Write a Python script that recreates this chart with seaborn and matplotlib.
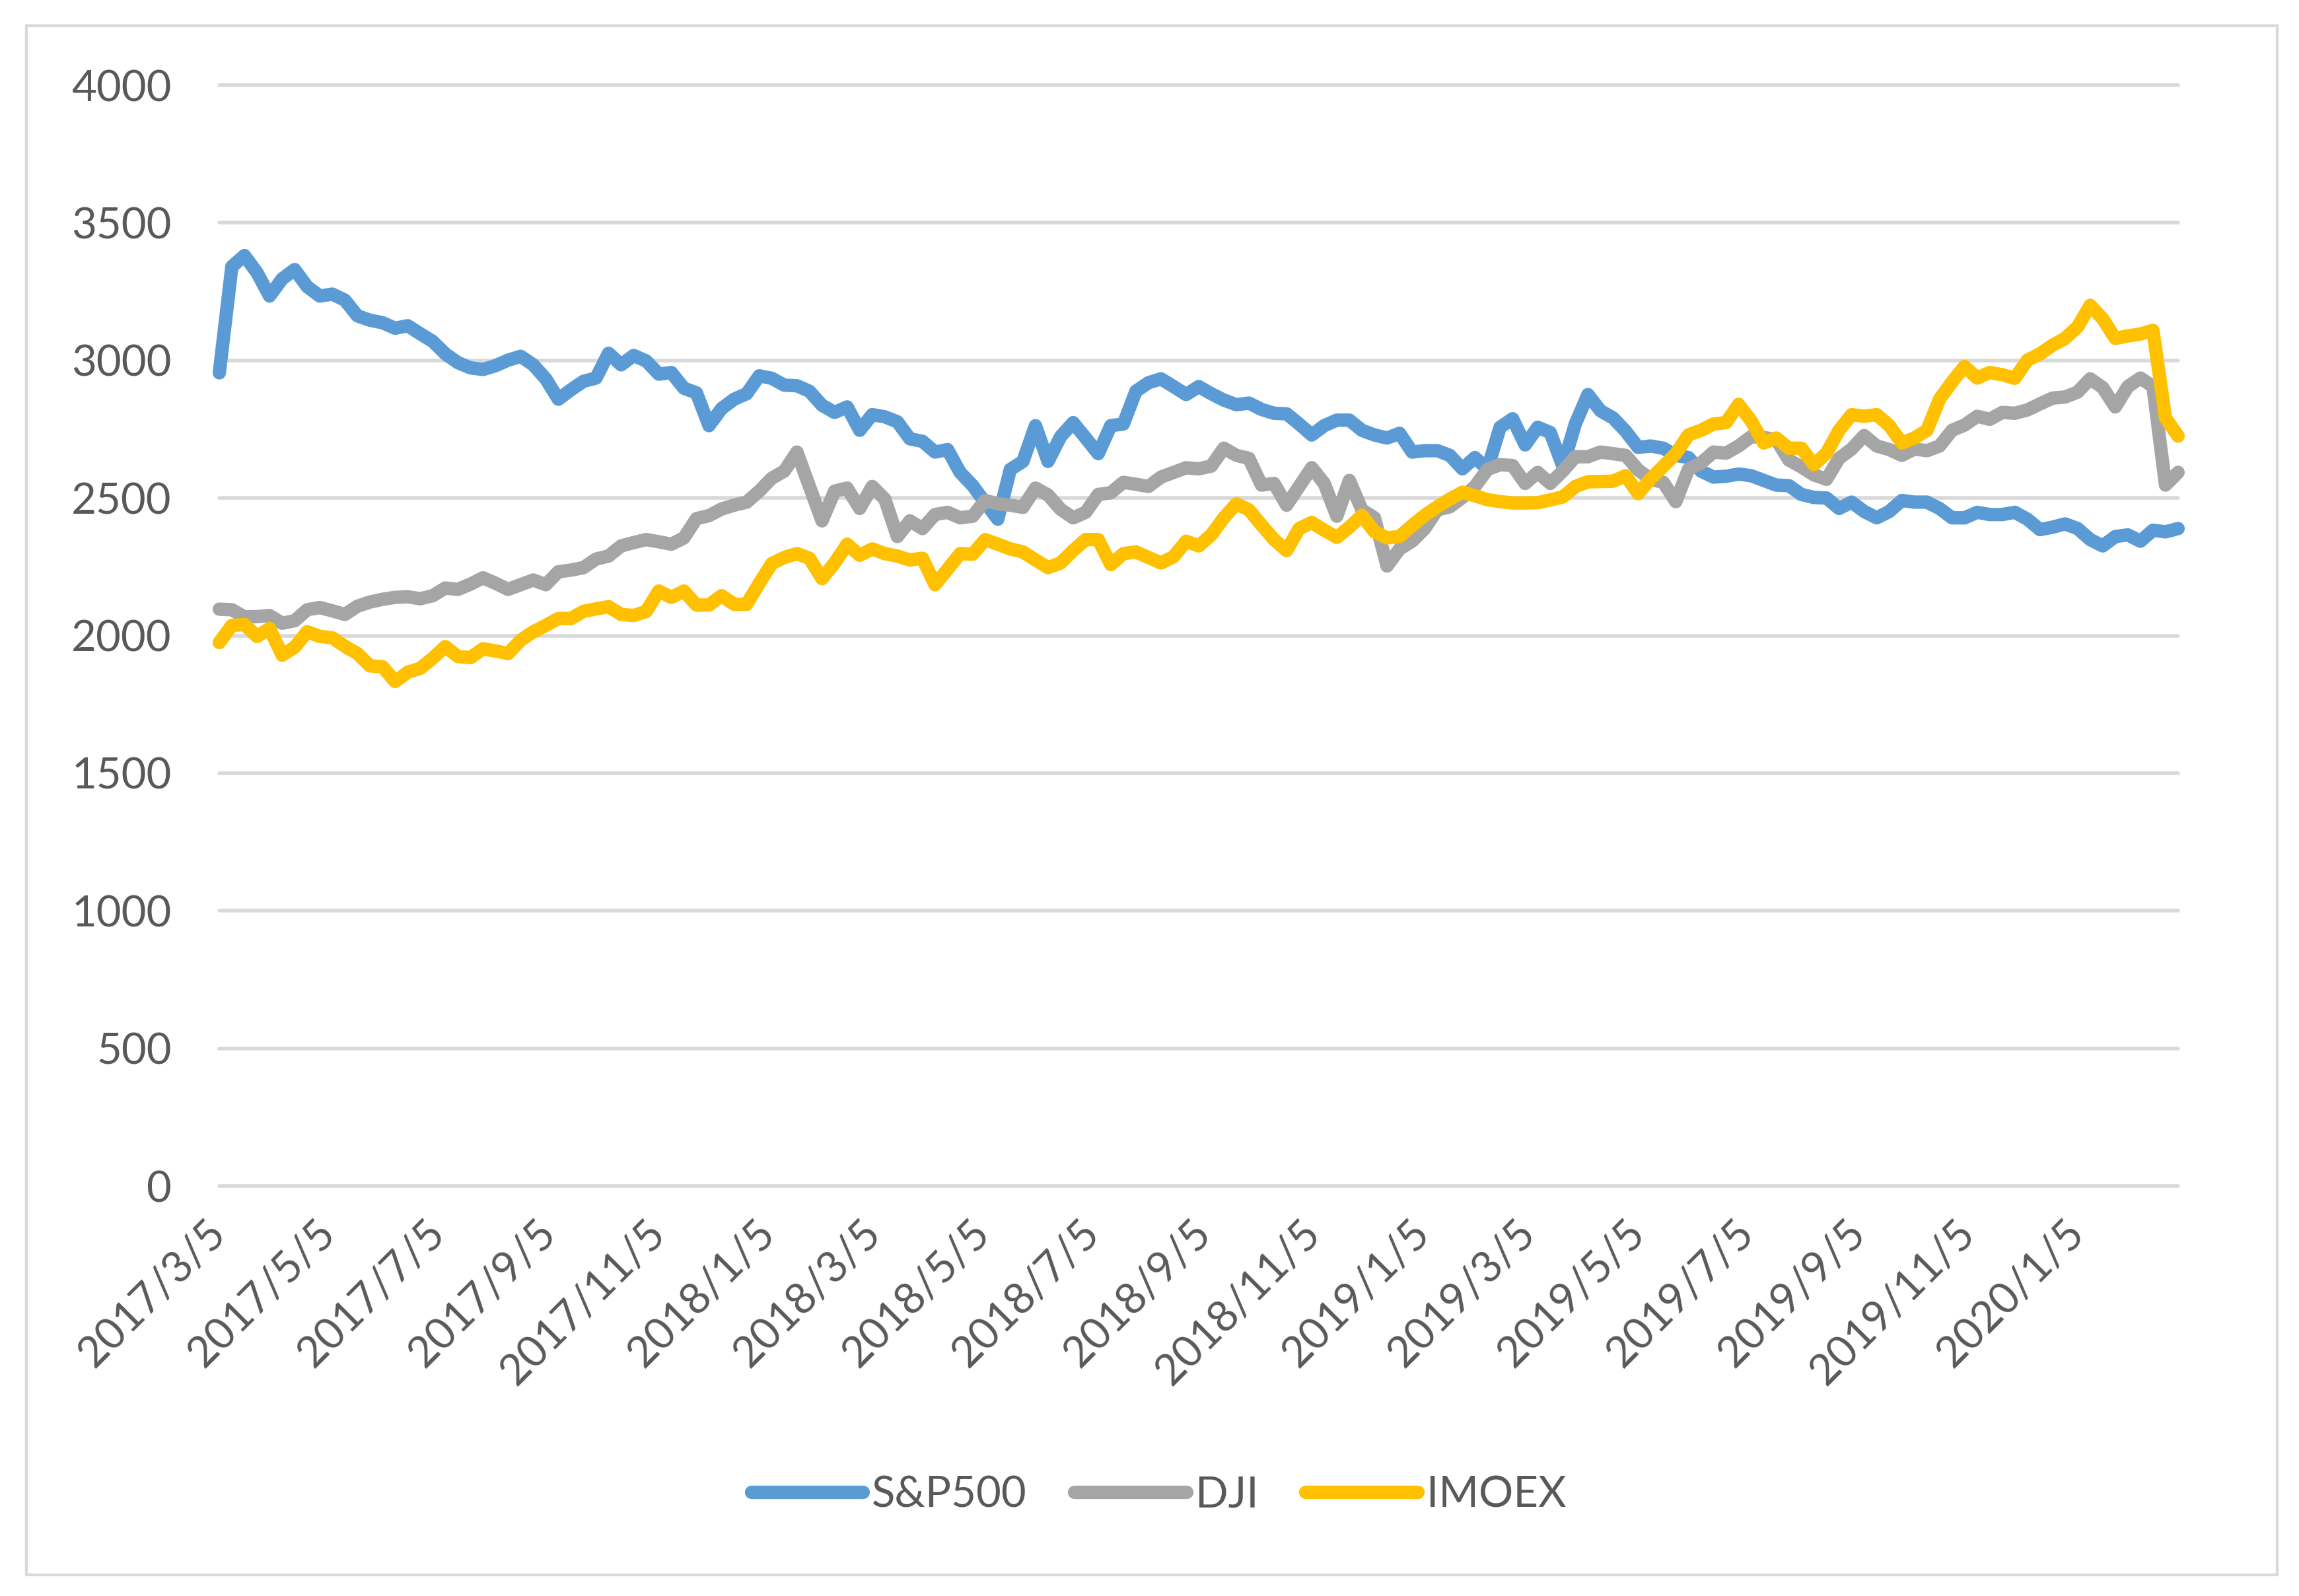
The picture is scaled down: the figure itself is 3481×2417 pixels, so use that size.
import pandas as pd
import seaborn as sns
import matplotlib.pyplot as plt
from matplotlib.lines import Line2D
from matplotlib.patches import Rectangle

# weekly points, first week 2017/3/5
start_date = "2017-03-05"
series_names = ["S&P500", "DJI", "IMOEX"]
series_colors = ["#5B9BD5", "#A5A5A5", "#FFC000"]

sp500 = [2955, 3341, 3381, 3319, 3234, 3296, 3330, 3268, 3234, 3241, 3219, 3162, 3146, 3137, 3117, 3126, 3097, 3069, 3024, 2992,
         2973, 2967, 2981, 3001, 3015, 2984, 2933, 2859, 2893, 2924, 2936, 3026, 2984, 3018, 2998, 2950, 2956, 2899, 2882, 2763,
         2825, 2859, 2879, 2944, 2935, 2910, 2908, 2888, 2837, 2811, 2831, 2746, 2803, 2795, 2777, 2715, 2706, 2667, 2676, 2593,
         2545, 2483, 2423, 2604, 2633, 2763, 2633, 2723, 2774, 2718, 2661, 2763, 2769, 2888, 2919, 2933, 2905, 2876, 2905,
         2879, 2856, 2839, 2845, 2822, 2808, 2806, 2769, 2729, 2763, 2783, 2783, 2746, 2729, 2718, 2735, 2667, 2672, 2672, 2655,
         2606, 2647, 2605, 2757, 2788, 2693, 2757, 2738, 2616, 2770, 2876, 2817, 2791, 2743, 2684, 2689, 2681, 2655, 2647, 2598,
         2576, 2579, 2587, 2581, 2564, 2547, 2545, 2513, 2502, 2500, 2462, 2485, 2451, 2428, 2451, 2491, 2485, 2485, 2462, 2428,
         2428, 2448, 2440, 2440, 2448, 2423, 2385, 2394, 2406, 2389, 2349, 2326, 2360, 2366, 2343, 2383, 2377, 2389]

dji = [2096, 2094, 2068, 2069, 2073, 2045, 2054, 2094, 2102, 2090, 2077, 2107, 2122, 2132, 2139, 2141, 2134, 2145, 2173, 2168,
       2187, 2210, 2190, 2168, 2185, 2202, 2185, 2232, 2238, 2247, 2278, 2289, 2326, 2338, 2349, 2341, 2332, 2355, 2425, 2436,
       2460, 2474, 2485, 2525, 2572, 2598, 2667, 2542, 2417, 2525, 2536, 2462, 2542, 2496, 2360, 2417, 2389, 2440, 2448, 2428,
       2434, 2491, 2479, 2474, 2466, 2536, 2511, 2459, 2428, 2448, 2513, 2519, 2557, 2550, 2542, 2576, 2593, 2610, 2606,
       2616, 2681, 2655, 2644, 2547, 2553, 2474, 2542, 2610, 2553, 2434, 2564, 2457, 2428, 2253, 2315, 2343, 2389, 2457, 2468,
       2502, 2542, 2604, 2621, 2618, 2553, 2593, 2553, 2598, 2650, 2650, 2667, 2661, 2655, 2602, 2568, 2557, 2487, 2604, 2627,
       2667, 2663, 2689, 2723, 2720, 2712, 2638, 2613, 2584, 2568, 2644, 2678, 2727, 2689, 2676, 2655, 2678, 2672, 2689, 2746,
       2765, 2797, 2786, 2811, 2808, 2820, 2842, 2863, 2867, 2885, 2933, 2901, 2831, 2905, 2936, 2905, 2547, 2593]

imoex = [1975, 2037, 2040, 1997, 2026, 1929, 1958, 2014, 1997, 1992, 1961, 1935, 1890, 1887, 1833, 1867, 1881, 1918, 1960, 1924,
         1920, 1952, 1944, 1935, 1983, 2014, 2037, 2062, 2062, 2088, 2097, 2105, 2077, 2073, 2088, 2162, 2139, 2162, 2111, 2111,
         2145, 2114, 2114, 2190, 2262, 2284, 2298, 2281, 2207, 2264, 2332, 2292, 2315, 2298, 2289, 2275, 2281, 2185, 2241, 2298,
         2296, 2349, 2332, 2315, 2304, 2275, 2247, 2264, 2309, 2349, 2349, 2258, 2298, 2304, 2284, 2264, 2287, 2343, 2326,
         2366, 2428, 2479, 2457, 2402, 2349, 2309, 2389, 2411, 2383, 2357, 2394, 2437, 2377, 2355, 2360, 2400, 2437, 2468, 2496,
         2521, 2508, 2494, 2487, 2482, 2482, 2483, 2493, 2504, 2542, 2559, 2560, 2561, 2581, 2516, 2570, 2615, 2661, 2729, 2746,
         2769, 2774, 2840, 2780, 2700, 2718, 2681, 2681, 2621, 2663, 2746, 2803, 2797, 2803, 2763, 2700, 2718, 2746, 2859, 2922,
         2978, 2936, 2956, 2948, 2935, 3001, 3024, 3055, 3080, 3122, 3200, 3151, 3080, 3089, 3096, 3109, 2791, 2725]

y_ticks = [0, 500, 1000, 1500, 2000, 2500, 3000, 3500, 4000]

dates = pd.date_range(start_date, periods=len(sp500), freq="7D")
df = pd.DataFrame({"Date": dates, "S&P500": sp500, "DJI": dji, "IMOEX": imoex})
long_df = df.melt(id_vars="Date", var_name="Index", value_name="Value")

sns.set_style("white")
plt.rcParams["font.family"] = ["Lato", "DejaVu Sans"]

fig = plt.figure(figsize=(17.405, 12.085), dpi=200)
ax = fig.add_axes([0.0954, 0.2569, 0.852, 0.6897])

lw = 7.3
sns.lineplot(data=long_df, x="Date", y="Value", hue="Index", hue_order=series_names,
             palette=series_colors, linewidth=lw, legend=False, ax=ax,
             solid_capstyle="round", solid_joinstyle="round")
for line in ax.lines:
    line.set_clip_on(False)

ax.set_xlim(dates[0], dates[-1])
ax.set_ylim(0, 4000)
ax.set_yticks(y_ticks)
ax.set_yticklabels([str(v) for v in y_ticks])

tick_dates = pd.date_range("2017-03-01", "2020-01-01", freq="2MS") + pd.Timedelta(days=4)
ax.set_xticks(tick_dates)
ax.set_xticklabels([f"{d.year}/{d.month}/{d.day}" for d in tick_dates],
                   rotation=45, ha="right", va="center", rotation_mode="anchor")

ax.set_xlabel("")
ax.set_ylabel("")
ax.grid(False)
ax.yaxis.grid(True, color="#D9D9D9", linewidth=2.0)
ax.set_axisbelow(True)
for gl in ax.get_ygridlines():
    gl.set_clip_on(False)
for s in ax.spines.values():
    s.set_visible(False)

ax.tick_params(axis="both", length=0, labelsize=23.5, labelcolor="#595959")
ax.tick_params(axis="y", pad=26)
ax.tick_params(axis="x", pad=22)

handles = [Line2D([0], [0], color=c, linewidth=lw, solid_capstyle="round") for c in series_colors]
fig.legend(handles, series_names, loc="center", bbox_to_anchor=(0.504, 0.0633), ncol=3,
           frameon=False, fontsize=23.5, handlelength=2.6, handletextpad=0.2,
           columnspacing=1.1, labelcolor="#595959")

# chart area border
fig.patches.append(Rectangle((0.0115, 0.0132), 0.979, 0.9708, transform=fig.transFigure,
                             fill=False, edgecolor="#D9D9D9", linewidth=1.5))

fig.savefig("out.png", dpi=200)
